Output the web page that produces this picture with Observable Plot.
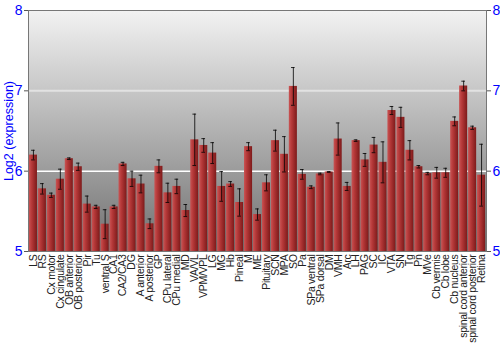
<!DOCTYPE html>
<html><head><meta charset="utf-8">
<script src="https://cdn.jsdelivr.net/npm/d3@7"></script>
<script src="https://cdn.jsdelivr.net/npm/@observablehq/plot@0.6"></script>
<style>
body{margin:0;background:#fff}
svg [aria-label="x-axis tick label"] text{letter-spacing:-0.3px}
</style>
</head><body><div id="chart"></div>
<script>
const regions = ["LS","RS","Cx motor","Cx cingulate","OB anterior","OB posterior","Pir","Tu","ventral S","CA1","CA2/CA3","DG","A anterior","A posterior","GP","CPu lateral","CPu medial","MD","VA/VL","VPM/VPL","LG","MG","Hb","Pineal","M","ME","Pituitary","SCN","MPA","SO","Pa","SPa ventral","SPa dorsal","DM","VMH","Arc","LH","PAG","SC","IC","VTA","SN","Tg","Pn","MVe","Cb vermis","Cb lobe","Cb nucleus","spinal cord anterior","spinal cord posterior","Retina"];
const means = [6.20,5.78,5.70,5.90,6.155,6.055,5.59,5.555,5.34,5.555,6.09,5.905,5.84,5.345,6.06,5.73,5.81,5.51,6.39,6.32,6.225,5.81,5.84,5.61,6.305,5.46,5.855,6.38,6.21,7.055,5.96,5.80,5.965,5.99,6.40,5.81,6.38,6.14,6.325,6.11,6.755,6.67,6.26,6.055,5.97,5.98,5.98,6.62,7.06,6.54,5.95];
const errors = [0.06,0.065,0.027,0.125,0.01,0.045,0.10,0.02,0.18,0.02,0.02,0.095,0.11,0.06,0.08,0.12,0.09,0.075,0.32,0.085,0.13,0.185,0.03,0.17,0.05,0.07,0.10,0.13,0.22,0.235,0.06,0.017,0.01,0.005,0.20,0.05,0.01,0.08,0.095,0.255,0.05,0.125,0.12,0.015,0.015,0.067,0.056,0.055,0.06,0.02,0.385];
const yTicks = [5,6,7,8];
const yLabel = "Log2 (expression)";

const data = regions.map((r, i) => ({region: r, value: means[i], err: errors[i]}));

const chart = Plot.plot({
  width: 500, height: 350,
  marginTop: 10, marginBottom: 99, marginLeft: 28, marginRight: 14,
  style: {fontFamily: "'Liberation Sans', Arial, sans-serif", background: "white"},
  x: {domain: regions, padding: 0.1, label: null},
  y: {domain: [5, 8], label: null},
  marks: [
    Plot.frame({fill: "url(#bgGrad)", stroke: null}),
    Plot.ruleY([7], {stroke: "#e2e2e2", strokeWidth: 2}),
    Plot.ruleY([6], {stroke: "#ffffff", strokeWidth: 1.5}),
    Plot.barY(data, {x: "region", y1: 5, y2: "value", fill: "url(#barGrad)"}),
    Plot.ruleX(data, {x: "region", y1: d => d.value - d.err, y2: d => d.value + d.err, stroke: "black", strokeOpacity: 0.8}),
    Plot.tickY(data, {x: "region", y: d => d.value + d.err, insetLeft: 2.2, insetRight: 2.2, stroke: "black", strokeOpacity: 0.8}),
    Plot.tickY(data, {x: "region", y: d => d.value - d.err, insetLeft: 2.2, insetRight: 2.2, stroke: "black", strokeOpacity: 0.8}),
    Plot.frame({stroke: "#777", strokeWidth: 1}),
    Plot.axisY({anchor: "left", ticks: yTicks, tickSize: 4, stroke: "#555", tickFormat: () => "", label: null}),
    Plot.axisY({anchor: "left", ticks: yTicks, tickSize: 0, tickPadding: 6, fill: "blue", fontSize: 14, tickFormat: d => String(d), label: null}),
    Plot.axisY({anchor: "left", ticks: [], tickSize: 0, fill: "blue", fontSize: 12.5,
      label: yLabel, labelAnchor: "center", labelArrow: "none", labelOffset: 24}),
    Plot.axisY({anchor: "right", ticks: yTicks, tickSize: 4, stroke: "#555", tickFormat: () => "", label: null}),
    Plot.axisY({anchor: "right", ticks: yTicks, tickSize: 0, tickPadding: 6, fill: "blue", fontSize: 14, tickFormat: d => String(d), label: null}),
    Plot.axisX({tickRotate: -90, tickSize: 0, tickPadding: 3, fontSize: 10.5, fill: "#222", label: null})
  ]
});

const svg = d3.select(chart);
const defs = svg.insert("defs", ":first-child");
const bg = defs.append("linearGradient").attr("id", "bgGrad").attr("x1", 0).attr("y1", 0).attr("x2", 0).attr("y2", 1);
bg.append("stop").attr("offset", "0%").attr("stop-color", "#f2f2f2");
bg.append("stop").attr("offset", "100%").attr("stop-color", "#707070");
const bar = defs.append("linearGradient").attr("id", "barGrad").attr("x1", 0).attr("y1", 0).attr("x2", 1).attr("y2", 0);
bar.append("stop").attr("offset", "0%").attr("stop-color", "#c95454");
bar.append("stop").attr("offset", "35%").attr("stop-color", "#b53838");
bar.append("stop").attr("offset", "100%").attr("stop-color", "#7d1a1a");

document.getElementById("chart").appendChild(chart);
</script>
</body></html>
